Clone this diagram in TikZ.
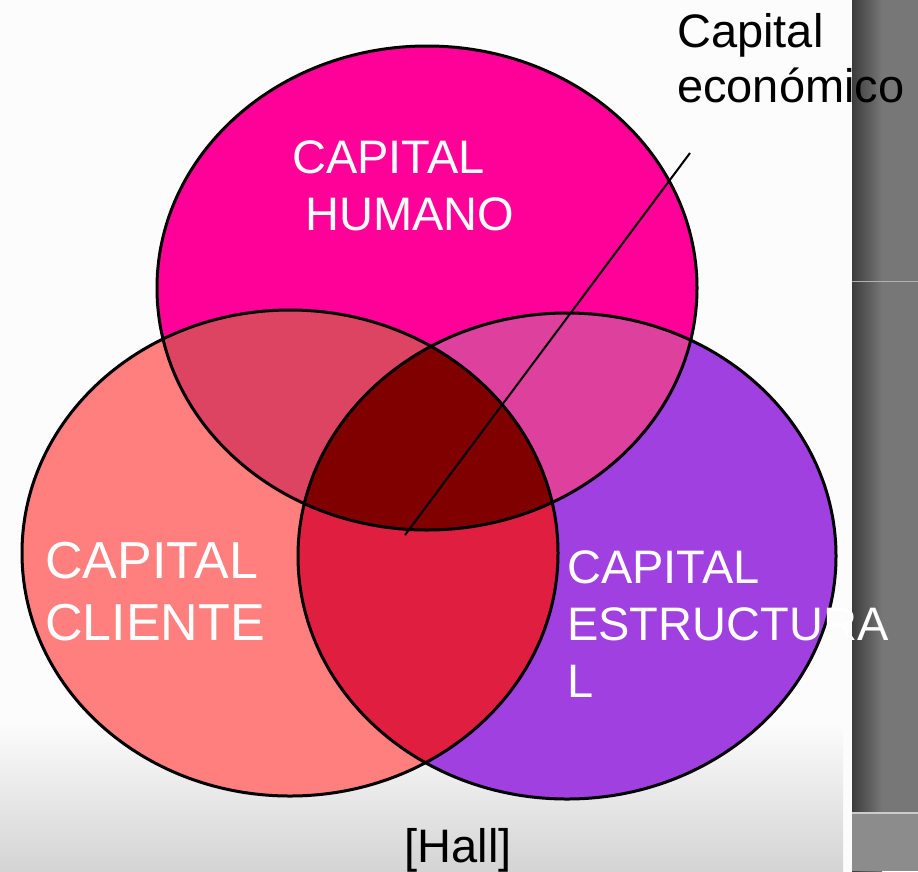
\documentclass[tikz,border=0pt]{standalone}
\usepackage{fontspec}
\setmainfont{Liberation Sans}
\usetikzlibrary{backgrounds,calc,positioning}
\definecolor{humanofill}{HTML}{FF0099}
\definecolor{clientefill}{HTML}{FF7F7F}
\definecolor{estructfill}{HTML}{A040E0}
\definecolor{hcfill}{HTML}{DC4462}
\definecolor{hefill}{HTML}{DE409E}
\definecolor{cefill}{HTML}{E01F40}
\definecolor{allfill}{HTML}{800000}
\definecolor{bgbottom}{HTML}{D4D4D4}
\definecolor{stripdark}{HTML}{3C3C3C}
\definecolor{stripgray}{HTML}{777777}
\definecolor{striplow}{HTML}{8C8C8C}
\def\figrx{270pt}
\def\figry{243pt}
\def\figfontbig{\fontsize{52}{62}\selectfont}
\def\figfont{\fontsize{47}{57}\selectfont}
\def\figfontsmall{\fontsize{47}{55}\selectfont}

\begin{document}
\begin{tikzpicture}[
  x=1pt,y=-1pt,
  outline/.style={draw=black,line width=3pt},
  lbl/.style={text=white,align=left,inner sep=0pt,anchor=north west},
  note/.style={text=black,align=left,inner sep=0pt},
]

%%%%%%%%%%%%%%%
% Background
%%%%%%%%%%%%%%%
\useasboundingbox (0,0) rectangle (918,871);
\fill[white!99!black] (0,0) rectangle (918,871);
\shade[top color=white!99!black,bottom color=bgbottom] (0,720) rectangle (843,871);
\shade[left color=stripdark,right color=stripgray] (852,0) rectangle (882,871);
\fill[stripgray] (882,0) rectangle (918,871);
\draw[white!70!black,line width=1pt] (852,281) -- (918,281);
\fill[striplow] (852,813) rectangle (918,871);
\draw[white!80!black,line width=2pt] (852,813) -- (918,813);

%%%%%%%%%%%%%%%
% Circles
%%%%%%%%%%%%%%%
\coordinate (ch) at (427,288);
\coordinate (cc) at (290,553);
\coordinate (ce) at (567,556);
\def\pathhumano{(ch) ellipse [x radius=\figrx,y radius=242pt]}
\def\pathcliente{(cc) ellipse [x radius=268pt,y radius=\figry]}
\def\pathestruct{(ce) ellipse [x radius=269pt,y radius=\figry]}

\fill[humanofill] \pathhumano;
\fill[clientefill] \pathcliente;
\fill[estructfill] \pathestruct;

% Overlaps
\begin{scope}
\clip \pathhumano;
\fill[hcfill] \pathcliente;
\fill[hefill] \pathestruct;
\end{scope}
\begin{scope}
\clip \pathcliente;
\fill[cefill] \pathestruct;
\clip \pathestruct;
\fill[allfill] \pathhumano;
\end{scope}

\draw[outline] \pathhumano;
\draw[outline] \pathcliente;
\draw[outline] \pathestruct;

%%%%%%%%%%%%%%%
% Labels
%%%%%%%%%%%%%%%
\node (lhumano) [lbl,font=\figfont] at (292,140) {CAPITAL\\\hspace*{13pt}HUMANO};
\node (lcliente) [lbl,font=\figfontbig] at (45,542) {CAPITAL\\CLIENTE};
\node (lestruct) [lbl,font=\figfont] at (567,550) {CAPITAL\\ESTRUCTURA\\L};

\node (lecon) [note,font=\figfontsmall,anchor=north west] at (677,13) {Capital\\econ\'omico};
\coordinate (econtail) at (405,535);
\coordinate (econhead) at (690,153);
\draw[line width=2pt] (econtail) -- (econhead);

\node (lhall) [note,font=\figfontsmall,anchor=base] at (458,862) {[Hall]};

\end{tikzpicture}
\end{document}
